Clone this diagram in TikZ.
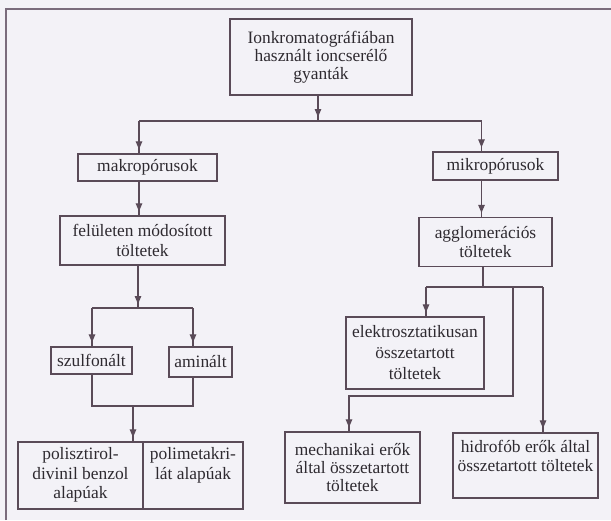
\documentclass[tikz,border=0pt]{standalone}
\usepackage{fontspec}
\setmainfont{Liberation Serif}
\usepackage{array}
\usetikzlibrary{arrows.meta,decorations.markings}
\definecolor{bgc}{HTML}{F3F2F7}
\definecolor{lc}{HTML}{5A4B58}
\definecolor{tc}{HTML}{2E2A30}
\definecolor{fc}{HTML}{7A6C7C}
\newcommand{\dgfs}{\fontsize{17.4}{19.5}\selectfont}
\begin{document}
\begin{tikzpicture}[x=1pt,y=-1pt,
  box/.style={draw=lc,line width=1.3pt,text=tc,align=center,inner sep=0pt,font=\dgfs},
  conn/.style={draw=lc,line width=1.2pt},
  arr/.style={conn,postaction={decorate},decoration={markings,mark=at position -4pt with {\arrow[lc]{Triangle[width=6.5pt,length=8pt]}}}}]
\fill[bgc] (0,0) rectangle (611,520);
\useasboundingbox (0,0) rectangle (611,520);
\draw[fc,line width=1.2pt] (6,520) -- (6,9) -- (611,9);

% nodes
\node[box,minimum width=182pt,minimum height=76pt,font=\fontsize{17.4}{18}\selectfont] (top) at (321,57) {Ionkromatográfiában\\használt ioncserélő\\gyanták};
\node[box,minimum width=139pt,minimum height=27pt] (mak) at (147.5,167.5) {makropórusok};
\node[box,minimum width=125pt,minimum height=28pt] (mik) at (495.5,166) {mikropórusok};
\node[box,minimum width=165pt,minimum height=49pt] (fel) at (142.5,240.5) {felületen módosított\\töltetek};
\node[box,minimum width=133pt,minimum height=49pt] (agg) at (485.5,242) {agglomerációs\\töltetek};
\node[box,minimum width=81pt,minimum height=27pt] (szu) at (91.5,360.5) {szulfonált};
\node[box,minimum width=63pt,minimum height=30pt] (ami) at (200.5,362) {aminált};
\node[box,minimum width=225pt,minimum height=67pt] (pol) at (130.5,475.5) {\begin{tabular}{@{}>{\centering\arraybackslash}p{125pt}@{}>{\centering\arraybackslash}p{100pt}@{}}polisztirol- & polimetakri-\\divinil benzol & lát alapúak\\alapúak & \end{tabular}};
\node[box,minimum width=138pt,minimum height=72pt,font=\fontsize{17.4}{21}\selectfont] (ele) at (415,353) {elektrosztatikusan\\összetartott\\töltetek};
\node[box,minimum width=135pt,minimum height=71pt,font=\fontsize{17.4}{18}\selectfont] (mec) at (352.5,467.5) {mechanikai erők\\által összetartott\\töltetek};
\node[box,minimum width=145pt,minimum height=65pt] (hid) at (525.5,465.5) {\raisebox{7.5pt}[\height][\depth]{\begin{tabular}{@{}c@{}}hidrofób erők által\\összetartott töltetek\end{tabular}}};

% divider in bottom-left box
\coordinate (dv) at (143,0);
\draw[conn] (pol.north -| dv) -- (pol.south -| dv);

% top level connectors
\coordinate (ja) at (318,121);
\coordinate (jl) at (139,121);
\coordinate (jr) at (481.5,121);
\draw[arr] (top.south -| ja) -- (ja);
\draw[conn] (jl) -- (jr);
\draw[arr] (jl) -- (mak.north -| jl);
\draw[arr] (jr) -- (mik.north -| jr);
\draw[arr] (mak.south -| jl) -- (fel.north -| jl);
\draw[arr] (mik.south -| jr) -- (agg.north -| jr);

% lower left
\coordinate (jb) at (138,308);
\coordinate (kl) at (92,308);
\coordinate (kr) at (193,308);
\draw[arr] (fel.south -| jb) -- (jb);
\draw[conn] (kl) -- (kr);
\draw[arr] (kl) -- (szu.north -| kl);
\draw[arr] (kr) -- (ami.north -| kr);
\coordinate (ml) at (92,406);
\coordinate (mr) at (193,406);
\coordinate (jc) at (133,406);
\draw[conn] (szu.south -| ml) -- (ml) -- (mr) -- (ami.south -| mr);
\draw[arr] (jc) -- (pol.north -| jc);

% lower right
\coordinate (jd) at (483,287);
\coordinate (nl) at (426,287);
\coordinate (nm) at (513,287);
\coordinate (nr) at (543,287);
\coordinate (nb) at (349,396);
\draw[conn] (agg.south -| jd) -- (jd);
\draw[conn] (nl) -- (nr);
\draw[arr] (nl) -- (ele.north -| nl);
\draw[arr] (nr) -- (hid.north -| nr);
\draw[arr] (nm) |- (nb) -- (mec.north -| nb);
\end{tikzpicture}
\end{document}
